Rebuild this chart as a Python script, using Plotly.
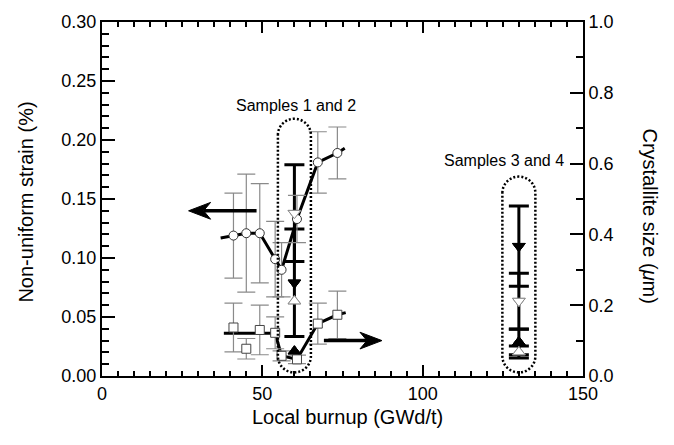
import plotly.graph_objects as go

# ---- data -------------------------------------------------------------
burnup = [41.0, 45.0, 49.2, 54.0, 56.0, 60.8, 67.3, 73.4]
strain = [0.119, 0.121, 0.121, 0.099, 0.090, 0.133, 0.181, 0.189]
strain_err = [0.036, 0.050, 0.042, 0.032, 0.023, 0.020, 0.026, 0.022]
size = [0.137, 0.077, 0.130, 0.122, 0.057, 0.047, 0.148, 0.173]
size_err = [0.069, 0.029, 0.070, 0.045, 0.014, 0.012, 0.058, 0.067]

# hand-drawn guide lines through the data
strain_trend_x = [37.0, 41.0, 45.0, 49.2, 54.0, 56.0, 60.8, 67.3, 73.4, 75.7]
strain_trend_y = [0.117, 0.119, 0.121, 0.121, 0.099, 0.090, 0.133, 0.181, 0.189, 0.193]
size_trend_x = [38.0, 54.0, 56.0, 60.8, 67.3, 73.4, 76.0]
size_trend_y = [0.121, 0.121, 0.057, 0.047, 0.148, 0.173, 0.179]

# samples 1 and 2 (60 GWd/t), samples 3 and 4 (130 GWd/t)
sample_burnup = [60.0, 130.0]
open_strain = [0.138, 0.0635]
open_strain_err = [0.041, 0.0236]
filled_strain = [0.079, 0.110]
filled_strain_err = [0.0456, 0.034]
open_size = [0.2115, 0.0676]
open_size_err = [0.0, 0.017]
filled_size = [0.070, 0.096]
filled_size_err = [0.0, 0.036]

sample_labels = ["Samples 1 and 2", "Samples 3 and 4"]
box_top = [0.218, 0.169]
box_bottom = [0.003, 0.003]

# direction arrows: (tail, tip, level)
strain_arrow = (48.2, 27.0, 0.14)
size_arrow = (69.2, 87.3, 0.10)

x_ticks = [0, 50, 100, 150]

# ---- geometry ---------------------------------------------------------
W, H = 674, 445
M = dict(l=102, r=91, t=17, b=69)
plot_w = W - M["l"] - M["r"]
plot_h = H - M["t"] - M["b"]
X_RANGE = [0, 150]
Y_RANGE = [0, 0.30]
Y2_RANGE = [0, 1.0]
ux = (X_RANGE[1] - X_RANGE[0]) / plot_w      # data units per pixel
uy = (Y_RANGE[1] - Y_RANGE[0]) / plot_h
uy2 = (Y2_RANGE[1] - Y2_RANGE[0]) / plot_h

FONT = "Liberation Sans, Arial, sans-serif"
GRAY = "#8a8a8a"

fig = go.Figure()

# guide lines
fig.add_trace(go.Scatter(x=strain_trend_x, y=strain_trend_y, mode="lines",
                         line=dict(color="black", width=3), hoverinfo="skip"))
fig.add_trace(go.Scatter(x=size_trend_x, y=size_trend_y, mode="lines", yaxis="y2",
                         line=dict(color="black", width=3), hoverinfo="skip"))

# sample measurements with thick black error bars
def sample_trace(x, y, err, symbol, filled, axis):
    kw = {}
    if err > 0:
        kw["error_y"] = dict(type="data", array=[err], color="black",
                             thickness=3, width=10)
    return go.Scatter(
        x=[x], y=[y], mode="markers", yaxis=axis,
        marker=dict(symbol=symbol, size=11,
                    color="black" if filled else "white",
                    line=dict(color="black" if filled else GRAY, width=1)),
        **kw)

for i, xb in enumerate(sample_burnup):
    fig.add_trace(sample_trace(xb, filled_strain[i], filled_strain_err[i],
                               "triangle-down", True, "y"))
    fig.add_trace(sample_trace(xb, open_strain[i], open_strain_err[i],
                               "triangle-down", False, "y"))
    fig.add_trace(sample_trace(xb, filled_size[i], filled_size_err[i],
                               "triangle-up", True, "y2"))
    fig.add_trace(sample_trace(xb, open_size[i], open_size_err[i],
                               "triangle-up", False, "y2"))

# non-uniform strain (open circles) and crystallite size (open squares)
fig.add_trace(go.Scatter(
    x=burnup, y=strain, mode="markers",
    error_y=dict(type="data", array=strain_err, color=GRAY, thickness=1.2, width=9),
    marker=dict(symbol="circle", size=9, color="white",
                line=dict(color="#333333", width=1))))
fig.add_trace(go.Scatter(
    x=burnup, y=size, mode="markers", yaxis="y2",
    error_y=dict(type="data", array=size_err, color=GRAY, thickness=1.2, width=9),
    marker=dict(symbol="square", size=9, color="white",
                line=dict(color="#444444", width=1))))

# re-draw the sample markers on top of the gray bars
for i, xb in enumerate(sample_burnup):
    for yv, sym, filled, axis in [(filled_strain[i], "triangle-down", True, "y"),
                                  (open_strain[i], "triangle-down", False, "y"),
                                  (filled_size[i], "triangle-up", True, "y2"),
                                  (open_size[i], "triangle-up", False, "y2")]:
        fig.add_trace(sample_trace(xb, yv, 0, sym, filled, axis))

# ---- shapes: dotted sample enclosures and arrows ----------------------
def stadium(xc, top, bottom, half_px=16.5):
    rx, ry, k = half_px * ux, half_px * uy, 0.5523
    p = []
    p.append(f"M{xc - rx},{top - ry}")
    p.append(f"C{xc - rx},{top - ry + k * ry} {xc - k * rx},{top} {xc},{top}")
    p.append(f"C{xc + k * rx},{top} {xc + rx},{top - ry + k * ry} {xc + rx},{top - ry}")
    p.append(f"L{xc + rx},{bottom + ry}")
    p.append(f"C{xc + rx},{bottom + ry - k * ry} {xc + k * rx},{bottom} {xc},{bottom}")
    p.append(f"C{xc - k * rx},{bottom} {xc - rx},{bottom + ry - k * ry} {xc - rx},{bottom + ry}")
    p.append("Z")
    return " ".join(p)

shapes = []
for i, xb in enumerate(sample_burnup):
    shapes.append(dict(type="path", xref="x", yref="y",
                       path=stadium(xb, box_top[i], box_bottom[i]),
                       line=dict(color="black", width=2.5, dash="2px,2px")))

def arrow(tail, tip, level, yref, uyv, head_len=22, half_h=8.5, notch=15):
    d = 1 if tip > tail else -1
    back = tip - d * head_len * ux
    nx = tip - d * notch * ux
    out = [dict(type="line", xref="x", yref=yref, x0=tail, x1=nx, y0=level, y1=level,
                line=dict(color="black", width=3.5))]
    path = (f"M{tip},{level} L{back},{level + half_h * uyv} L{nx},{level} "
            f"L{back},{level - half_h * uyv} Z")
    out.append(dict(type="path", xref="x", yref=yref, path=path,
                    fillcolor="black", line=dict(color="black", width=1)))
    return out

shapes += arrow(*strain_arrow, "y", uy)
shapes += arrow(*size_arrow, "y2", uy2)

# ---- annotations ------------------------------------------------------
def label(text, x, y, xref, yref, size, angle=0):
    return dict(x=x, y=y, xref=xref, yref=yref, text=text, textangle=angle,
                showarrow=False, xanchor="center", yanchor="middle",
                font=dict(size=size, family=FONT, color="black"))

annotations = [
    label(sample_labels[0], 60.4, 0.229, "x", "y", 16),
    label(sample_labels[1], 125.4, 0.183, "x", "y", 16),
    label("Non-uniform strain (%)", -0.16, 0.49, "paper", "paper", 20, -90),
    label("Crystallite size (<i>\u03bc</i>m)", 1.139, 0.451, "paper", "paper", 20, 90),
    label("Local burnup (GWd/t)", 0.51, -0.117, "paper", "paper", 20),
]

axis_common = dict(showline=True, linecolor="black", linewidth=2, showgrid=False,
                   zeroline=False, ticks="inside", tickcolor="black", tickwidth=2,
                   tickfont=dict(size=18, family=FONT, color="black"))

fig.update_layout(
    width=W, height=H, margin=M, showlegend=False,
    paper_bgcolor="white", plot_bgcolor="white",
    xaxis=dict(range=X_RANGE, tickvals=x_ticks, ticklen=11, mirror="ticks",
               minor=dict(dtick=5, ticklen=5, ticks="inside", tickcolor="black",
                          tickwidth=2),
               **axis_common),
    yaxis=dict(range=Y_RANGE, dtick=0.05, tickformat=".2f", ticklen=13,
               minor=dict(dtick=0.01, ticklen=7, ticks="inside", tickcolor="black",
                          tickwidth=2),
               **axis_common),
    yaxis2=dict(range=Y2_RANGE, dtick=0.2, tickformat=".1f", ticklen=13,
                overlaying="y", side="right",
                minor=dict(dtick=0.1, ticklen=7, ticks="inside", tickcolor="black",
                           tickwidth=2),
                **axis_common),
    shapes=shapes, annotations=annotations,
)

fig.write_html("out.html")
